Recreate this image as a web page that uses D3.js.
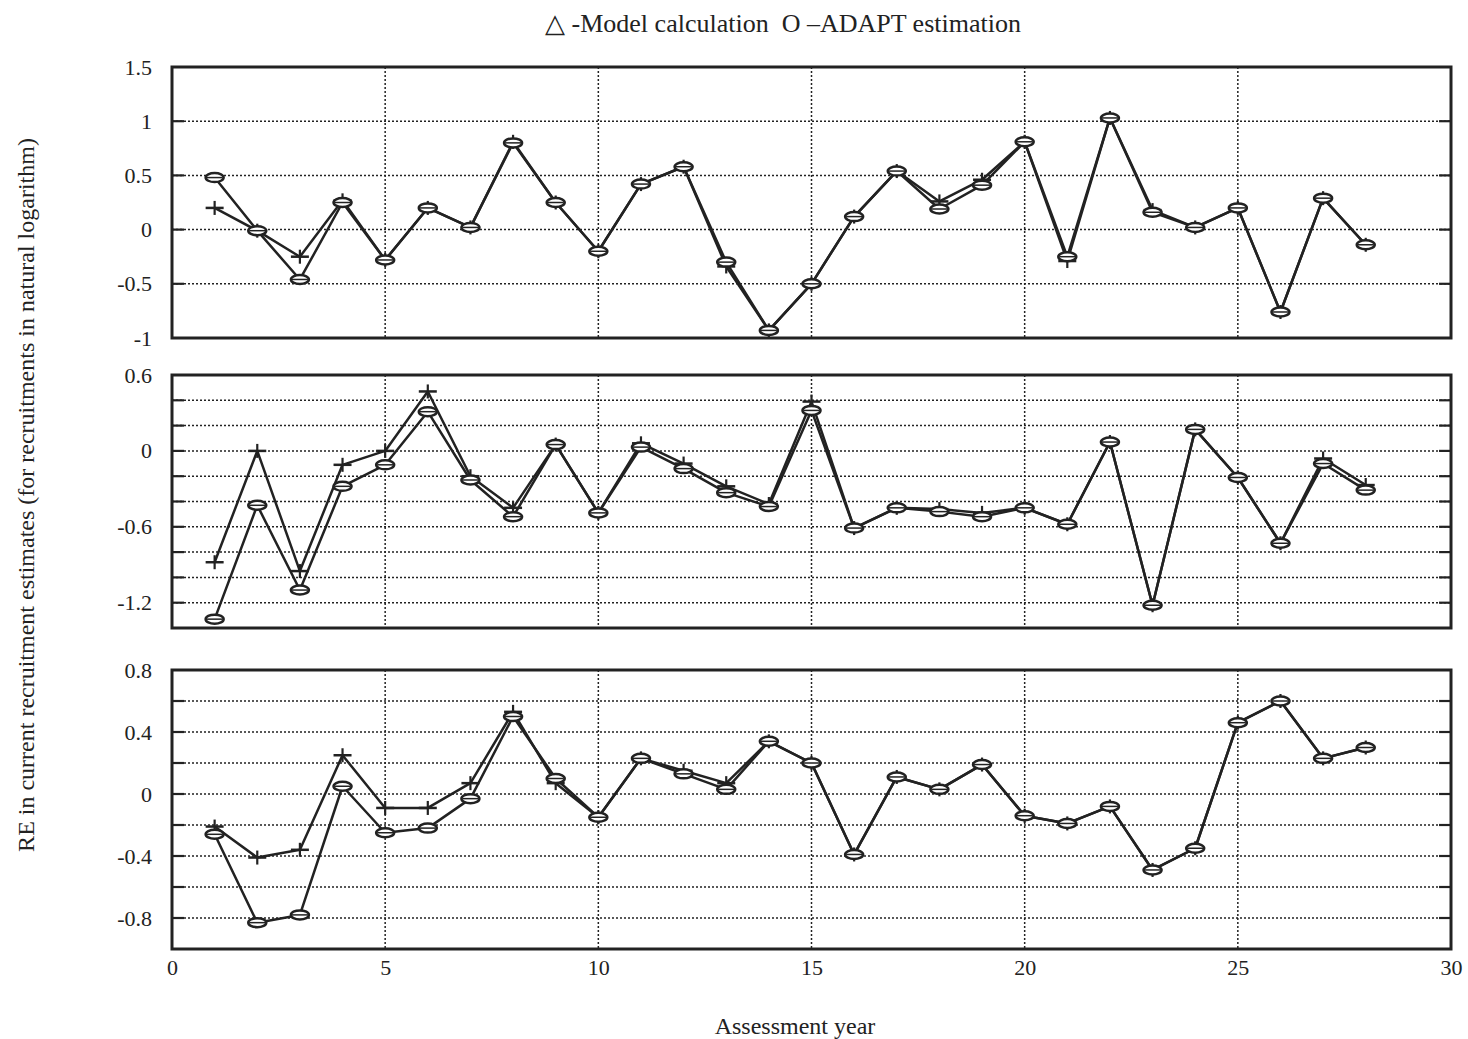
<!DOCTYPE html>
<html><head><meta charset="utf-8">
<script src="https://cdn.jsdelivr.net/npm/d3@7"></script>
<style>body{margin:0;background:#fff;} svg{display:block;} text{font-family:"Liberation Serif","Times New Roman",serif;fill:#222;}</style>
</head><body><svg id="c" width="1468" height="1039"></svg>
<script>
const years = [1,2,3,4,5,6,7,8,9,10,11,12,13,14,15,16,17,18,19,20,21,22,23,24,25,26,27,28];
const xTicks = [0,5,10,15,20,25,30];
const xGrid = [5,10,15,20,25];

const model1 = [0.20,-0.01,-0.25,0.27,-0.28,0.20,0.02,0.81,0.25,-0.20,0.42,0.58,-0.34,-0.93,-0.50,0.12,0.54,0.26,0.46,0.81,-0.29,1.03,0.18,0.02,0.20,-0.76,0.29,-0.14];
const adapt1 = [0.48,-0.01,-0.46,0.25,-0.28,0.20,0.02,0.80,0.25,-0.20,0.42,0.58,-0.30,-0.93,-0.50,0.12,0.54,0.19,0.41,0.81,-0.25,1.03,0.16,0.02,0.20,-0.76,0.29,-0.14];
const yTicks1 = [1.5,1,0.5,0,-0.5,-1];
const yGrid1 = [1,0.5,0,-0.5];

const model2 = [-0.88,0.00,-0.95,-0.11,0.00,0.47,-0.20,-0.45,0.05,-0.49,0.06,-0.10,-0.28,-0.42,0.39,-0.61,-0.45,-0.46,-0.49,-0.45,-0.58,0.07,-1.22,0.17,-0.21,-0.73,-0.06,-0.27];
const adapt2 = [-1.33,-0.43,-1.10,-0.28,-0.11,0.31,-0.23,-0.52,0.05,-0.49,0.03,-0.14,-0.33,-0.44,0.32,-0.61,-0.45,-0.48,-0.52,-0.45,-0.58,0.07,-1.22,0.17,-0.21,-0.73,-0.10,-0.31];
const yTicks2 = [0.6,0,-0.6,-1.2];
const yGrid2 = [0.4,0.2,0,-0.2,-0.4,-0.6,-0.8,-1.0,-1.2];

const model3 = [-0.21,-0.41,-0.36,0.25,-0.09,-0.09,0.07,0.53,0.07,-0.15,0.23,0.15,0.07,0.34,0.20,-0.39,0.11,0.03,0.19,-0.14,-0.19,-0.08,-0.49,-0.35,0.46,0.60,0.23,0.30];
const adapt3 = [-0.26,-0.83,-0.78,0.05,-0.25,-0.22,-0.03,0.50,0.10,-0.15,0.23,0.13,0.03,0.34,0.20,-0.39,0.11,0.03,0.19,-0.14,-0.19,-0.08,-0.49,-0.35,0.46,0.60,0.23,0.30];
const yTicks3 = [0.8,0.4,0,-0.4,-0.8];
const yGrid3 = [0.6,0.4,0.2,0,-0.2,-0.4,-0.6,-0.8];

const svg = d3.select("#c");
const L = 172, R = 1451;
const x = d3.scaleLinear().domain([0,30]).range([L,R]);
const ink = "#222";
const fmt = d => String(+(+d).toFixed(1));

const panels = [
  {model:model1, adapt:adapt1, ticks:yTicks1, grid:yGrid1, dom:[-1,1.5], top:67, bot:338},
  {model:model2, adapt:adapt2, ticks:yTicks2, grid:yGrid2, dom:[-1.4,0.6], top:375, bot:628},
  {model:model3, adapt:adapt3, ticks:yTicks3, grid:yGrid3, dom:[-1.0,0.8], top:670, bot:949}
];

panels.forEach((p,i)=>{
  const y = d3.scaleLinear().domain(p.dom).range([p.bot,p.top]);
  const g = svg.append("g");
  g.selectAll(".hg").data(p.grid).join("line")
    .attr("x1",L).attr("x2",R).attr("y1",d=>y(d)).attr("y2",d=>y(d))
    .attr("stroke",ink).attr("stroke-width",1.5).attr("stroke-dasharray","2,2");
  g.selectAll(".vg").data(xGrid).join("line")
    .attr("x1",d=>x(d)).attr("x2",d=>x(d)).attr("y1",p.top).attr("y2",p.bot)
    .attr("stroke",ink).attr("stroke-width",1.5).attr("stroke-dasharray","2,2");
  g.selectAll(".lt").data(p.grid).join("line")
    .attr("x1",L).attr("x2",L+12).attr("y1",d=>y(d)).attr("y2",d=>y(d))
    .attr("stroke",ink).attr("stroke-width",2.2);
  g.selectAll(".rt").data(p.grid).join("line")
    .attr("x1",R-12).attr("x2",R).attr("y1",d=>y(d)).attr("y2",d=>y(d))
    .attr("stroke",ink).attr("stroke-width",2.2);
  g.append("rect").attr("x",L).attr("y",p.top).attr("width",R-L).attr("height",p.bot-p.top)
    .attr("fill","none").attr("stroke",ink).attr("stroke-width",3);
  const ax = g.append("g").attr("transform",`translate(${L},0)`)
    .call(d3.axisLeft(y).tickValues(p.ticks).tickSize(0).tickPadding(20).tickFormat(fmt));
  ax.select(".domain").remove();
  ax.selectAll("text").attr("font-size",22).attr("font-family","Liberation Serif").attr("fill",ink);
  const line = d3.line().x((d,j)=>x(years[j])).y(d=>y(d));
  g.append("path").datum(p.model).attr("d",line).attr("fill","none").attr("stroke",ink).attr("stroke-width",2.5).attr("stroke-linejoin","round");
  g.append("path").datum(p.adapt).attr("d",line).attr("fill","none").attr("stroke",ink).attr("stroke-width",2.5).attr("stroke-linejoin","round");
  const mg = g.selectAll(".mm").data(p.model).join("g")
    .attr("transform",(d,j)=>`translate(${x(years[j])},${y(d)})`);
  mg.append("line").attr("x1",-9).attr("x2",9).attr("y1",0).attr("y2",0).attr("stroke",ink).attr("stroke-width",2.5);
  mg.append("line").attr("x1",0).attr("x2",0).attr("y1",-7).attr("y2",7).attr("stroke",ink).attr("stroke-width",2.2);
  const ag = g.selectAll(".am").data(p.adapt).join("g")
    .attr("transform",(d,j)=>`translate(${x(years[j])},${y(d)})`);
  ag.append("ellipse").attr("rx",9).attr("ry",4.5)
    .attr("fill","#fff").attr("stroke",ink).attr("stroke-width",2.5);
  ag.append("line").attr("x1",-8).attr("x2",8).attr("y1",0).attr("y2",0).attr("stroke",ink).attr("stroke-width",1.5);
  if(i===2){
    const bx = g.append("g").attr("transform",`translate(0,${p.bot})`)
      .call(d3.axisBottom(x).tickValues(xTicks).tickSize(0).tickPadding(10).tickFormat(fmt));
    bx.select(".domain").remove();
    bx.selectAll("text").attr("font-size",22).attr("font-family","Liberation Serif").attr("fill",ink);
  }
});

svg.append("text").attr("x",783).attr("y",32).attr("text-anchor","middle").attr("font-size",26)
  .attr("xml:space","preserve").text("\u25B3 -Model calculation  O \u2013ADAPT estimation");
svg.append("text").attr("x",795).attr("y",1034).attr("text-anchor","middle").attr("font-size",24)
  .text("Assessment year");
svg.append("text").attr("transform","translate(34,495) rotate(-90)").attr("text-anchor","middle").attr("font-size",24)
  .text("RE in current recruitment estimates (for recruitments in natural logarithm)");
</script></body></html>
